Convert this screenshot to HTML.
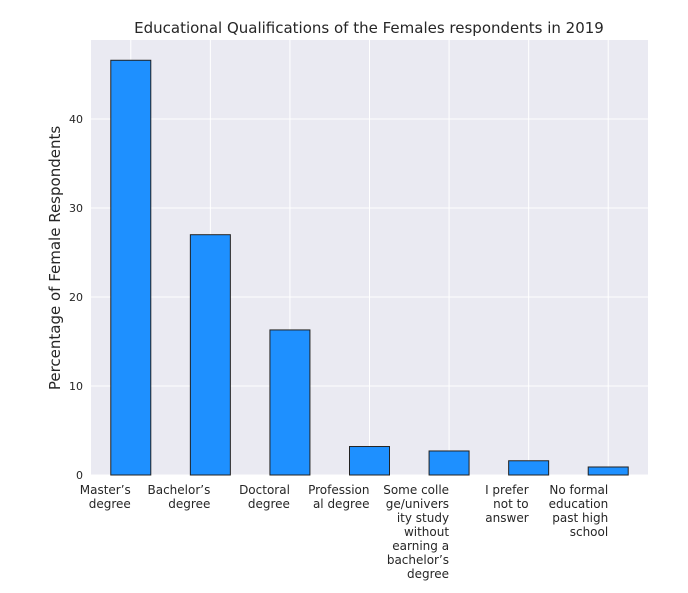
<!DOCTYPE html>
<html><head><meta charset="utf-8"><style>
body{margin:0;background:#fff;}
svg text{font-family:"DejaVu Sans","Liberation Sans",sans-serif;fill:#262626;}
</style></head><body>
<svg id="chart" width="688" height="588" xmlns="http://www.w3.org/2000/svg">
<text x="369" y="33" font-size="15" text-anchor="middle">Educational Qualifications of the Females respondents in 2019</text>
<rect x="91" y="40" width="557" height="435" fill="#eaeaf2"/>
<g id="grid"></g><g id="bars"></g><g id="yticks"></g><g id="xlabels"></g>
<text transform="translate(60,258) rotate(-90)" font-size="15" text-anchor="middle">Percentage of Female Respondents</text>
</svg>
<script>
const categories=[["Master’s","degree"],["Bachelor’s","degree"],["Doctoral","degree"],["Profession","al degree"],["Some colle","ge/univers","ity study","without","earning a","bachelor’s","degree"],["I prefer","not to","answer"],["No formal","education","past high","school"]];
const values=[46.6,27.0,16.3,3.2,2.7,1.6,0.9];
const yTicks=[0,10,20,30,40];
const NS="http://www.w3.org/2000/svg";
const x0=91,w=557,y0=475,pxPer=8.9;
const band=w/categories.length;
function xc(i){return x0+band*(i+0.5);}
function y(v){return y0-v*pxPer;}
function mk(t,a,p){const e=document.createElementNS(NS,t);for(const k in a)e.setAttribute(k,a[k]);document.getElementById(p).appendChild(e);return e;}
yTicks.forEach(t=>{
 const l=mk('line',{x1:x0,x2:x0+w,y1:y(t),y2:y(t),stroke:'#fff','stroke-width':1},'grid');
 
 
 const tx=mk('text',{x:x0-8,y:y(t)+4,'font-size':11,'text-anchor':'end'},'yticks');
 tx.textContent=t;
 
 
});
categories.forEach((c,i)=>{
 const l=mk('line',{x1:xc(i),x2:xc(i),y1:40,y2:y0,stroke:'#fff','stroke-width':1},'grid');
 
 
 const r=mk('rect',{x:xc(i)-20,y:y(values[i]),width:40,height:values[i]*pxPer,fill:'#1e90ff',stroke:'#222','stroke-width':1},'bars');
 
 
 const t=mk('text',{'font-size':12,'text-anchor':'end'},'xlabels');
 
 
 c.forEach((ln,j)=>{const s=document.createElementNS(NS,'tspan');s.setAttribute('x',xc(i));s.setAttribute('y',494+j*14);s.textContent=ln;t.appendChild(s);});
});
</script>
</body></html>
